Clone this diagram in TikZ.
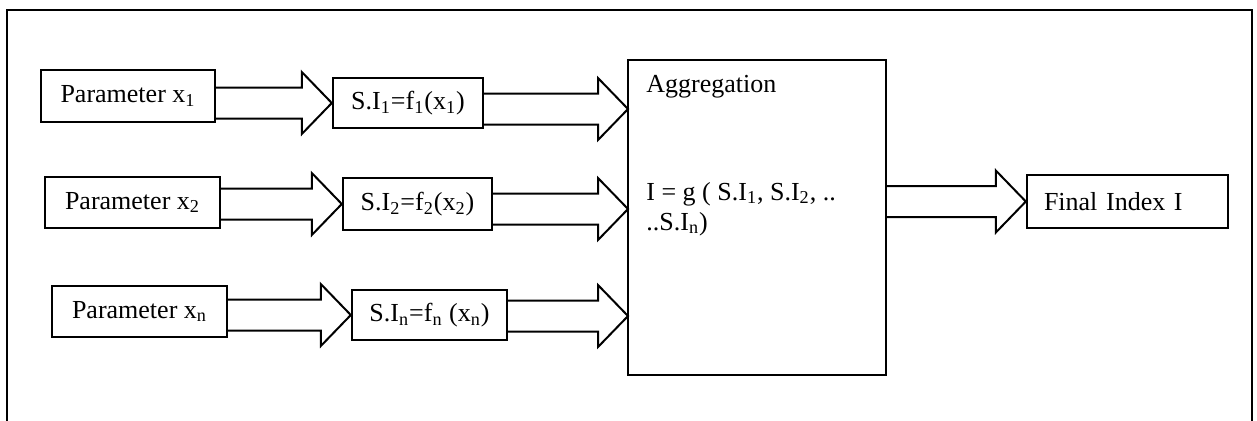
\documentclass[tikz,border=0pt]{standalone}
\usepackage{fontspec}
\setmainfont{Liberation Serif}
\usetikzlibrary{calc}
\tikzset{
  box/.style={draw, line width=1.2pt, inner sep=0pt, font=\fontsize{13}{15}\selectfont, align=center},
  txt/.style={inner sep=0pt, font=\fontsize{13}{15}\selectfont, anchor=base west},
  blockarr/.style={draw, line width=1pt, line join=miter},
  frame/.style={draw, line width=1pt},
}
\newcommand\blockarrow[2]{%
  \draw[blockarr] let \p1=(#1), \p2=(#2) in
    (\x1,{\y2+7.75pt}) -- ({\x2-15pt},{\y2+7.75pt}) -- ({\x2-15pt},{\y2+15.5pt}) -- (\x2,\y2)
    -- ({\x2-15pt},{\y2-15.5pt}) -- ({\x2-15pt},{\y2-7.75pt}) -- (\x1,{\y2-7.75pt});}
\begin{document}
\begin{tikzpicture}[x=0.5pt,y=-0.5pt]
\useasboundingbox (0,0) rectangle (1257,420);
\draw[frame] (7,430) -- (7,10) -- (1252,10) -- (1252,430);
% parameter boxes
\node[box, minimum width=87pt, minimum height=26pt] (p1) at (128,96) {Parameter x\textsubscript{1}};
\node[box, minimum width=87.5pt, minimum height=25.5pt] (p2) at (132.5,202.5) {Parameter x\textsubscript{2}};
\node[box, minimum width=87.5pt, minimum height=25.5pt] (pn) at (139.5,311.5) {Parameter x\textsubscript{n}};
% sub-index boxes
\node[box, minimum width=75pt, minimum height=25pt] (s1) at (408,103) {S.I\textsubscript{1}=f\textsubscript{1}(x\textsubscript{1})};
\node[box, minimum width=74.5pt, minimum height=26pt] (s2) at (417.5,204) {S.I\textsubscript{2}=f\textsubscript{2}(x\textsubscript{2})};
\node[box, minimum width=77.5pt, minimum height=25pt] (sn) at (429.5,315) {S.I\textsubscript{n}=f\textsubscript{n} (x\textsubscript{n})};
% aggregation
\node[box, minimum width=129pt, minimum height=157.5pt] (agg) at (757,217.5) {};
\node[txt] (aggt) at (646,92) {Aggregation};
\node[txt] (aggf1) at (646,200) {I = g ( S.I\textsubscript{1}, S.I\textsubscript{2}, ..};
\node[txt] (aggf2) at (646,230) {..S.I\textsubscript{n})};
% final
\node[box, minimum height=26.5pt, text width=83.5pt, inner xsep=8.5pt, align=left] (fin) at (1127.5,201.5) {Final Index I};
% entry points on aggregation
\coordinate (a1) at (628,109);
\coordinate (a2) at (628,209);
\coordinate (a3) at (628,316);
% arrows
\blockarrow{p1.east}{s1.west}
\blockarrow{p2.east}{s2.west}
\blockarrow{pn.east}{sn.west}
\blockarrow{s1.east}{a1}
\blockarrow{s2.east}{a2}
\blockarrow{sn.east}{a3}
\blockarrow{agg.east}{fin.west}
\end{tikzpicture}
\end{document}
